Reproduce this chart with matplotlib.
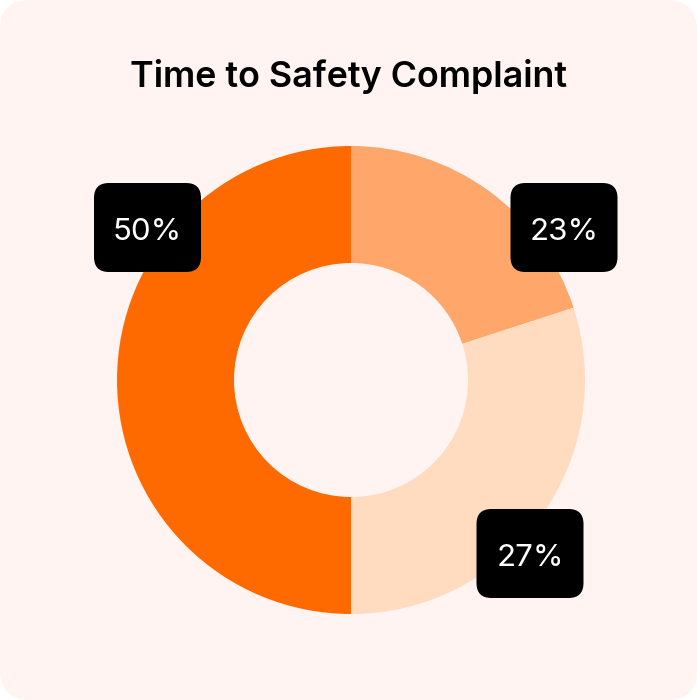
import matplotlib
matplotlib.use("Agg")
from matplotlib import pyplot as plt
from matplotlib.patches import FancyBboxPatch

# data (wedge sizes as drawn, labels as printed)
categories = ["Short", "Medium", "Long"]
wedge_sizes = [20, 30, 50]
labels = ["23%", "27%", "50%"]
colors = ["#FFA66A", "#FFDBC0", "#FF6A00"]

# label box centres in pixel coords (y up)
label_pos = [(564, 472.5), (530, 146.5), (147.5, 472.5)]

W, H = 697, 700
fig = plt.figure(figsize=(W / 100, H / 100), dpi=100)
fig.patch.set_facecolor("white")
ax = fig.add_axes([0, 0, 1, 1])
ax.set_xlim(0, W)
ax.set_ylim(0, H)
ax.set_axis_off()

card = FancyBboxPatch((0, 0), W, H, boxstyle="round,pad=0,rounding_size=30",
                      facecolor="#FFF4F1", edgecolor="none")
ax.add_patch(card)

ax.pie(wedge_sizes, colors=colors, startangle=90, counterclock=False,
       center=(351, 320), radius=234, frame=True,
       wedgeprops=dict(width=117, linewidth=0))
ax.set_xlim(0, W)
ax.set_ylim(0, H)
ax.set_aspect("equal")
ax.set_axis_off()

ax.text(349, 613.5, "Time to Safety Complaint", ha="center", va="baseline",
        fontsize=25.8, fontweight="semibold", family="Inter", color="black")

for (x, y), lab in zip(label_pos, labels):
    box = FancyBboxPatch((x - 53.5, y - 44.5), 107, 89,
                         boxstyle="round,pad=0,rounding_size=15",
                         facecolor="black", edgecolor="none", zorder=5)
    ax.add_patch(box)
    ax.text(x, y - 13, lab, ha="center", va="baseline", fontsize=22.5,
            family="Inter", color="white", zorder=6)

fig.savefig("out.png", dpi=100, facecolor="white")
